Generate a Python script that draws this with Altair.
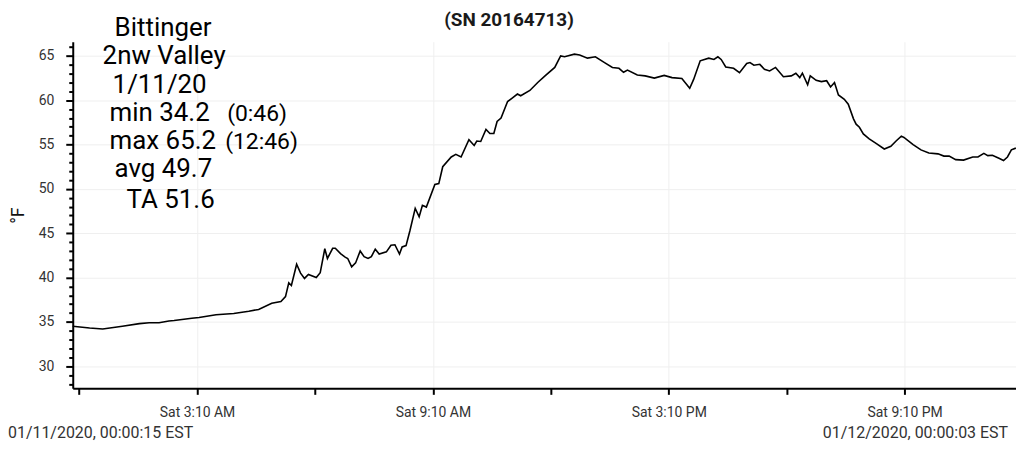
import altair as alt
import pandas as pd

# minutes after midnight, 2020-01-11
minutes = [0.25, 26, 46, 76, 102, 117, 132, 147, 155, 182, 193, 219, 246, 269, 284, 304, 318, 325, 330, 334,
           342, 348, 354, 360, 372, 378, 385, 389, 397, 401, 409, 416, 420, 426, 432, 439, 445, 451, 456, 462,
           468, 479, 486, 492, 499, 503, 509, 515, 523, 529, 534, 540, 553, 559, 565, 578, 585, 593, 605, 613,
           617, 623, 631, 637, 643, 648, 654, 664, 672, 679, 684, 698, 710, 722, 736, 745, 751, 766, 774, 786,
           798, 812, 824, 834, 841, 847, 862, 874, 888, 903, 915, 930, 942, 948, 958, 971, 979, 985, 990, 997,
           1009, 1018, 1029, 1034, 1040, 1049, 1056, 1064, 1073, 1085, 1097, 1104, 1110, 1114, 1122, 1126, 1135,
           1143, 1151, 1157, 1163, 1169, 1178, 1184, 1192, 1196, 1201, 1207, 1216, 1227, 1239, 1249, 1257, 1265,
           1269, 1283, 1295, 1307, 1321, 1330, 1338, 1348, 1360, 1374, 1382, 1391, 1397, 1404, 1414, 1421, 1427,
           1433, 1439.8]
temps = [34.5, 34.3, 34.2, 34.5, 34.8, 34.9, 34.9, 35.1, 35.15, 35.4, 35.5, 35.8, 35.95, 36.2, 36.4, 37.1, 37.3,
         37.85, 39.4, 39.1, 41.5, 40.5, 39.9, 40.35, 40.0, 40.55, 43.25, 42.15, 43.3, 43.3, 42.7, 42.3, 42.15, 41.2,
         41.65, 43.0, 42.35, 42.15, 42.35, 43.2, 42.65, 42.9, 43.65, 43.7, 42.65, 43.45, 43.6, 45.3, 47.8, 46.85,
         48.15, 47.95, 50.5, 50.6, 52.5, 53.6, 53.9, 53.6, 55.55, 54.9, 55.4, 55.35, 56.7, 56.25, 56.25, 57.6, 58.0,
         59.85, 60.3, 60.7, 60.5, 61.1, 62.0, 62.8, 63.7, 65.0, 64.9, 65.2, 65.1, 64.75, 64.9, 64.25, 63.7, 63.6,
         63.15, 63.4, 62.85, 62.75, 62.5, 62.8, 62.55, 62.45, 61.35, 62.35, 64.45, 64.75, 64.6, 64.9, 64.6, 63.75,
         63.6, 63.1, 64.15, 64.25, 63.95, 64.05, 63.5, 63.3, 63.7, 62.65, 62.75, 63.05, 62.55, 63.05, 61.75, 62.75,
         62.25, 62.1, 62.2, 61.5, 62.0, 60.6, 60.1, 59.55, 57.9, 57.3, 56.95, 56.2, 55.65, 55.1, 54.5, 54.8, 55.4,
         55.95, 55.8, 55.0, 54.4, 54.05, 53.95, 53.7, 53.7, 53.3, 53.25, 53.6, 53.6, 54.0, 53.75, 53.8, 53.45, 53.2,
         53.6, 54.4, 54.6]

x_tick_hours = [0, 3, 6, 9, 12, 15, 18, 21]
y_ticks = list(range(28, 67))
title_text = "(SN 20164713)"
start_label = "01/11/2020, 00:00:15 EST"
end_label = "01/12/2020, 00:00:03 EST"

base_ts = pd.Timestamp("2020-01-11 00:00:00")
df = pd.DataFrame({
    "time": [base_ts + pd.Timedelta(minutes=m) for m in minutes],
    "temp": temps,
})

x_domain = [alt.DateTime(year=2020, month=1, date=11, hours=0, minutes=0, seconds=15),
            alt.DateTime(year=2020, month=1, date=12, hours=0, minutes=0, seconds=3)]
x_values = [alt.DateTime(year=2020, month=1, date=11, hours=h, minutes=10) for h in x_tick_hours]

FONT = "Roboto"

x_axis = alt.Axis(
    values=x_values,
    labelExpr="hours(datum.value) % 6 === 3 ? timeFormat(datum.value, '%a %-I:%M %p') : ''",
    title=None,
    domainColor="black", domainWidth=2,
    tickColor="black", tickWidth=2, tickSize=6,
    labelFont=FONT, labelFontSize=14, labelColor="#333333", labelPadding=11,
    grid=True, gridColor="#efefef", gridWidth=1,
    gridOpacity={"condition": {"test": "hours(datum.value) % 6 === 3", "value": 1}, "value": 0},
    labelFlush=False, labelOverlap=False,
)

y_axis = alt.Axis(
    values=y_ticks,
    labelExpr="datum.value % 5 === 0 ? datum.value : ''",
    title="°F", titleFont=FONT, titleFontSize=18, titleFontWeight="normal", titleColor="#111111",
    titleX=-54, titleY=174, titleAngle=270, titleBaseline="middle", titleAlign="center",
    domainColor="black", domainWidth=2,
    tickColor="black", tickWidth=2,
    tickSize={"condition": {"test": "datum.value % 5 === 0", "value": 7}, "value": 4},
    labelFont=FONT, labelFontSize=14, labelColor="#333333", labelPadding=12,
    grid=True, gridColor="#efefef", gridWidth=1,
    gridOpacity={"condition": {"test": "datum.value % 5 === 0", "value": 1}, "value": 0},
    labelOverlap=False,
)

line = alt.Chart(df).mark_line(color="black", strokeWidth=1.6).encode(
    x=alt.X("time:T", scale=alt.Scale(domain=x_domain), axis=x_axis),
    y=alt.Y("temp:Q", scale=alt.Scale(domain=[27.5, 66.6], nice=False, zero=False), axis=y_axis),
)

one = pd.DataFrame({"k": [0]})


def label(text, px, py, size, align="left", weight="normal", color="#000000"):
    return alt.Chart(one).mark_text(
        text=text, align=align, baseline="alphabetic", font=FONT, fontSize=size,
        fontWeight=weight, color=color,
    ).encode(x=alt.value(px), y=alt.value(py))


layers = [
    line,
    label(title_text, 438, -16, 19, align="center", weight="bold", color="#1a1a1a"),
    label("Bittinger", 42, -6, 26),
    label("2nw Valley", 30, 22, 26),
    label("1/11/20", 40, 51, 26),
    label("min 34.2", 37, 80, 26),
    label("(0:46)", 155, 80, 23),
    label("max 65.2", 37, 108, 26),
    label("(12:46)", 153, 108, 23),
    label("avg 49.7", 42, 136, 26),
    label("TA 51.6", 54, 167, 26),
    label(start_label, -65, 398, 16, color="#333333"),
    label(end_label, 939, 398, 16, align="right", color="#333333"),
]

chart = alt.layer(*layers).properties(
    width=947, height=348,
    autosize=alt.AutoSizeParams(type="none"),
    padding={"left": 65, "top": 33, "right": 0, "bottom": 53},
    background="white",
).configure_view(stroke=None)

chart.save("out.html", embed_options={"renderer": "svg", "actions": False})
